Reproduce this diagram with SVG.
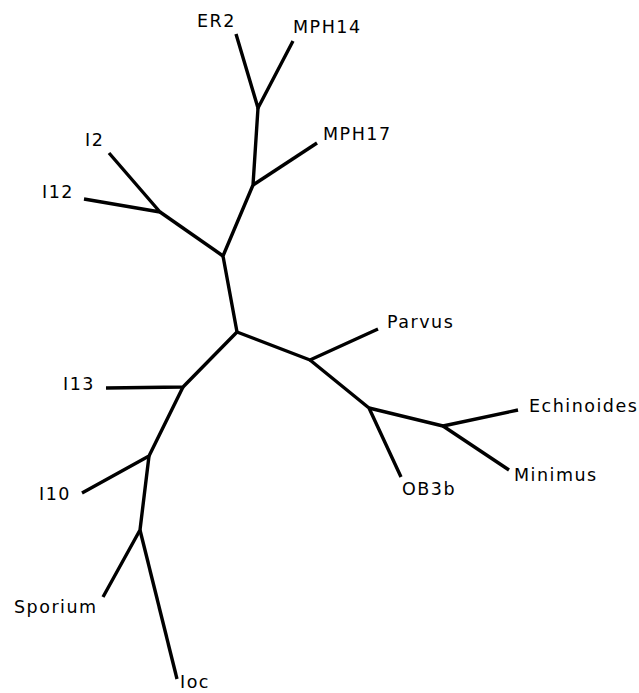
<svg xmlns="http://www.w3.org/2000/svg" width="639" height="693" viewBox="0 0 639 693">
<style>
.e{stroke:#000;stroke-width:3.4;fill:none;stroke-linecap:butt;stroke-linejoin:round}
.t{font-family:"DejaVu Sans",sans-serif;font-size:17.5px;letter-spacing:1.5px;fill:#000}
</style>
<rect width="639" height="693" fill="#fff"/>
<g id="connectors">
<path class="e" d="M237,332 L223,256 L253,185 L258,108"/>
<path class="e" d="M236,34 L258,108 L293,41"/>
<path class="e" d="M253,185 L317,143"/>
<path class="e" d="M223,256 L160,212"/>
<path class="e" d="M109,153 L160,212 L84,199"/>
<path class="e" d="M237,332 L310,360 L378,329"/>
<path class="e" d="M310,360 L369,408 L401,477"/>
<path class="e" d="M369,408 L443,426 L518,410"/>
<path class="e" d="M443,426 L509,470"/>
<path class="e" d="M237,332 L183,387 L106,388"/>
<path class="e" d="M183,387 L149,456 L82,493"/>
<path class="e" d="M149,456 L140,530 L103,597"/>
<path class="e" d="M140,530 L177,679"/>
</g>
<g id="ER2"><text class="t" x="197" y="27">ER2</text></g>
<g id="MPH14"><text class="t" x="293" y="33">MPH14</text></g>
<g id="MPH17"><text class="t" x="323" y="140">MPH17</text></g>
<g id="I2"><text class="t" x="85" y="146">I2</text></g>
<g id="I12"><text class="t" x="42" y="198">I12</text></g>
<g id="Parvus"><text class="t" x="387" y="328">Parvus</text></g>
<g id="I13"><text class="t" x="63" y="390">I13</text></g>
<g id="Echinoides"><text class="t" x="529" y="412">Echinoides</text></g>
<g id="Minimus"><text class="t" x="514" y="481">Minimus</text></g>
<g id="OB3b"><text class="t" x="402" y="495">OB3b</text></g>
<g id="I10"><text class="t" x="39" y="500">I10</text></g>
<g id="Sporium"><text class="t" x="14" y="613">Sporium</text></g>
<g id="Ioc"><text class="t" x="180" y="688">Ioc</text></g>
</svg>
